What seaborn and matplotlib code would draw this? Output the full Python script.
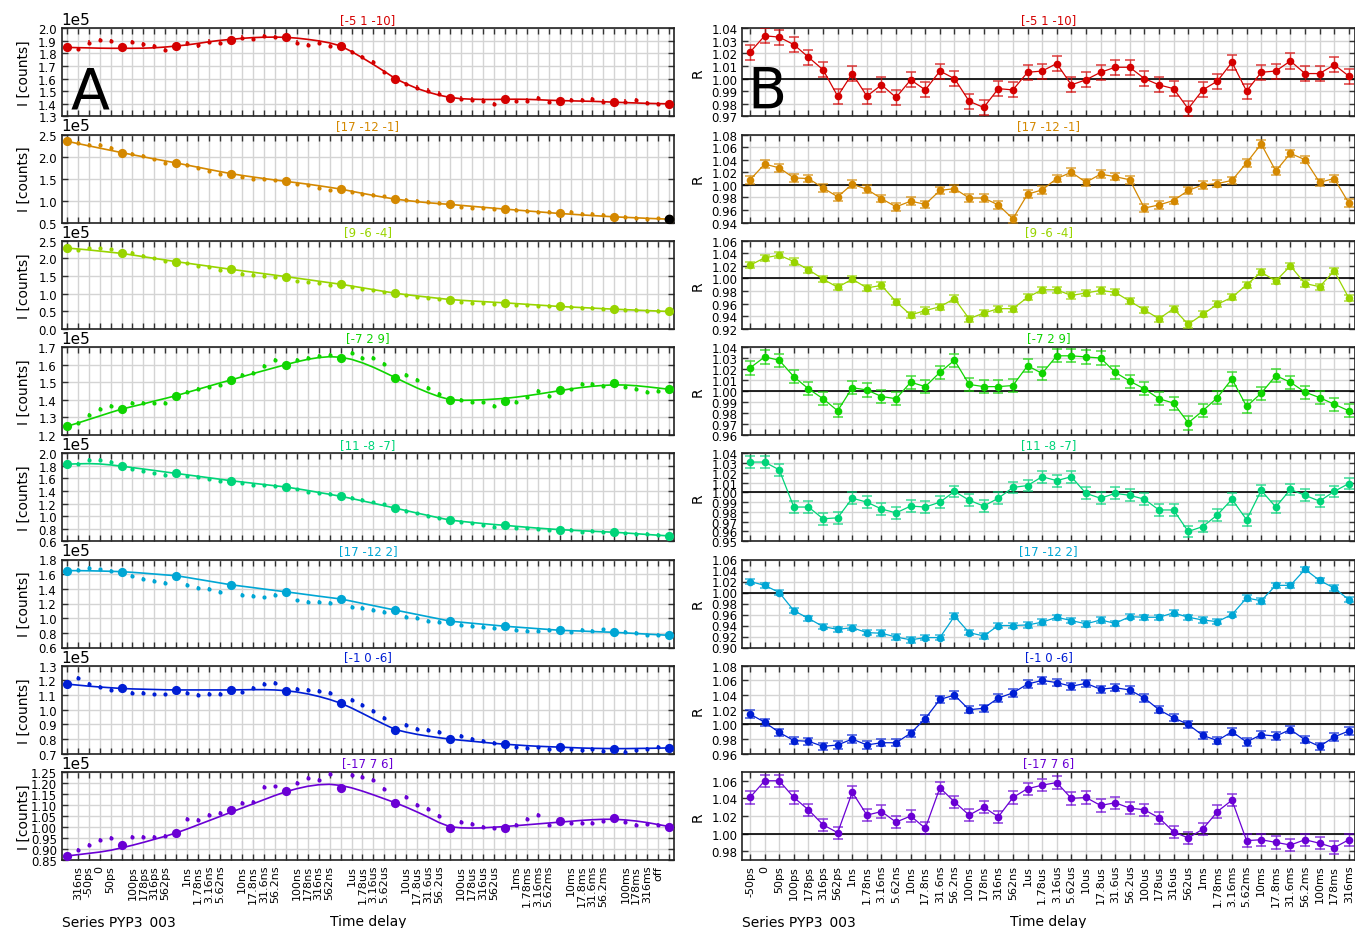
import matplotlib
matplotlib.use('Agg')
import matplotlib.pyplot as plt
from matplotlib.colors import to_rgba
from matplotlib.ticker import MultipleLocator
import numpy as np
import seaborn as sns

## Time delay labels (left panels: between the 'off' reference points)
TIME_LABELS = ['316ns', '-50ps', '0', '50ps', '100ps', '178ps', '316ps', '562ps',
               '1ns', '1.78ns', '3.16ns', '5.62ns', '10ns', '17.8ns', '31.6ns', '56.2ns',
               '100ns', '178ns', '316ns', '562ns', '1us', '1.78us', '3.16us', '5.62us',
               '10us', '17.8us', '31.6us', '56.2us', '100us', '178us', '316us', '562us',
               '1ms', '1.78ms', '3.16ms', '5.62ms', '10ms', '17.8ms', '31.6ms', '56.2ms',
               '100ms', '178ms', '316ms', 'off']
RATIO_LABELS = TIME_LABELS[1:43]

TITLES = ['[-5 1 -10]', '[17 -12 -1]', '[9 -6 -4]', '[-7 2 9]',
          '[11 -8 -7]', '[17 -12 2]', '[-1 0 -6]', '[-17 7 6]']
COLORS = ['#d40000', '#d48800', '#98d400', '#0fd400',
          '#00d479', '#00a6d4', '#001ed4', '#6a00d4']

## Intensities in units of 1e5 counts
## off: reference points, curve: fit through them, on: measured points
off_1 = [1.848, 1.848, 1.859, 1.910, 1.928, 1.863, 1.596, 1.449, 1.436, 1.425, 1.412, 1.399]
curve_1 = [1.848, 1.846, 1.844, 1.842, 1.841, 1.841, 1.841, 1.842, 1.845, 1.851, 1.859, 1.868, 1.880, 1.893,
           1.904, 1.912, 1.920, 1.926, 1.929, 1.930, 1.928, 1.922, 1.912, 1.900, 1.884, 1.860, 1.815, 1.765,
           1.712, 1.657, 1.600, 1.558, 1.521, 1.492, 1.468, 1.450, 1.440, 1.436, 1.434, 1.434, 1.435, 1.436,
           1.435, 1.432, 1.428, 1.425, 1.423, 1.421, 1.419, 1.416, 1.412, 1.409, 1.406, 1.403, 1.401, 1.399]
on_1 = [1.838, 1.886, 1.907, 1.899, 1.891, 1.872, 1.856, 1.827, 1.880, 1.864, 1.894, 1.886, 1.926, 1.915,
        1.941, 1.928, 1.886, 1.867, 1.886, 1.862, 1.814, 1.769, 1.729, 1.652, 1.558, 1.529, 1.505, 1.481,
        1.441, 1.433, 1.425, 1.399, 1.420, 1.425, 1.447, 1.412, 1.428, 1.428, 1.437, 1.417, 1.417, 1.428,
        1.407, 1.399]
ratio_1 = [1.021, 1.034, 1.033, 1.027, 1.017, 1.007, 0.986, 1.004, 0.986, 0.995, 0.985, 0.999, 0.991, 1.006,
           1.000, 0.982, 0.977, 0.992, 0.991, 1.005, 1.006, 1.012, 0.995, 0.999, 1.005, 1.009, 1.009, 1.000,
           0.995, 0.992, 0.976, 0.991, 0.998, 1.013, 0.990, 1.005, 1.006, 1.014, 1.004, 1.004, 1.011, 1.002]

off_2 = [2.348, 2.090, 1.854, 1.611, 1.436, 1.261, 1.033, 0.912, 0.805, 0.706, 0.630, 0.577]
curve_2 = [2.348, 2.296, 2.244, 2.192, 2.141, 2.090, 2.041, 1.993, 1.946, 1.900, 1.854, 1.805, 1.756, 1.707,
           1.658, 1.611, 1.571, 1.535, 1.500, 1.467, 1.436, 1.405, 1.372, 1.337, 1.300, 1.261, 1.212, 1.163,
           1.116, 1.072, 1.033, 1.002, 0.975, 0.950, 0.930, 0.912, 0.890, 0.869, 0.847, 0.826, 0.805, 0.785,
           0.765, 0.745, 0.725, 0.706, 0.690, 0.674, 0.659, 0.644, 0.630, 0.618, 0.607, 0.596, 0.586, 0.577]
on_2 = [2.318, 2.262, 2.264, 2.199, 2.063, 2.013, 1.936, 1.864, 1.807, 1.744, 1.669, 1.600, 1.530, 1.487,
        1.487, 1.458, 1.375, 1.343, 1.294, 1.230, 1.194, 1.154, 1.127, 1.093, 1.006, 0.992, 0.962, 0.937,
        0.857, 0.841, 0.826, 0.819, 0.785, 0.767, 0.750, 0.750, 0.735, 0.689, 0.692, 0.670, 0.620, 0.613,
        0.579, 0.592]
ratio_2 = [1.008, 1.033, 1.027, 1.011, 1.010, 0.995, 0.981, 1.001, 0.993, 0.978, 0.965, 0.974, 0.969, 0.991,
           0.994, 0.979, 0.979, 0.968, 0.946, 0.985, 0.992, 1.010, 1.020, 1.004, 1.017, 1.013, 1.008, 0.963,
           0.968, 0.975, 0.991, 1.000, 1.002, 1.007, 1.035, 1.065, 1.022, 1.050, 1.040, 1.004, 1.010, 0.971]

off_3 = [2.293, 2.142, 1.906, 1.689, 1.482, 1.265, 1.010, 0.831, 0.737, 0.633, 0.557, 0.491]
curve_3 = [2.293, 2.268, 2.240, 2.208, 2.175, 2.142, 2.096, 2.048, 2.000, 1.953, 1.906, 1.863, 1.820, 1.776,
           1.733, 1.689, 1.648, 1.607, 1.565, 1.524, 1.482, 1.439, 1.396, 1.352, 1.309, 1.265, 1.215, 1.164,
           1.112, 1.060, 1.010, 0.969, 0.932, 0.898, 0.864, 0.831, 0.809, 0.790, 0.772, 0.754, 0.737, 0.716,
           0.695, 0.675, 0.654, 0.633, 0.618, 0.603, 0.587, 0.572, 0.557, 0.543, 0.530, 0.517, 0.504, 0.491]
on_3 = [2.245, 2.287, 2.281, 2.255, 2.153, 2.077, 1.998, 1.926, 1.861, 1.793, 1.756, 1.669, 1.552, 1.525,
        1.495, 1.475, 1.347, 1.319, 1.287, 1.246, 1.179, 1.143, 1.092, 1.031, 0.947, 0.914, 0.878, 0.833,
        0.769, 0.739, 0.735, 0.699, 0.675, 0.667, 0.655, 0.647, 0.624, 0.601, 0.599, 0.567, 0.536, 0.536,
        0.501, 0.510]
ratio_3 = [1.021, 1.033, 1.037, 1.027, 1.014, 0.999, 0.986, 0.999, 0.985, 0.989, 0.963, 0.942, 0.949, 0.955,
           0.968, 0.936, 0.945, 0.952, 0.952, 0.970, 0.982, 0.982, 0.973, 0.977, 0.981, 0.978, 0.964, 0.950,
           0.936, 0.952, 0.927, 0.943, 0.959, 0.970, 0.990, 1.010, 0.996, 1.020, 0.992, 0.987, 1.012, 0.969]

off_4 = [1.249, 1.347, 1.424, 1.513, 1.600, 1.640, 1.526, 1.398, 1.396, 1.458, 1.498, 1.460]
curve_4 = [1.249, 1.268, 1.288, 1.308, 1.328, 1.347, 1.362, 1.377, 1.393, 1.408, 1.424, 1.442, 1.460, 1.478,
           1.496, 1.513, 1.531, 1.549, 1.566, 1.583, 1.600, 1.616, 1.630, 1.640, 1.645, 1.642, 1.630, 1.610,
           1.585, 1.556, 1.526, 1.496, 1.467, 1.441, 1.418, 1.401, 1.397, 1.398, 1.400, 1.404, 1.408, 1.415,
           1.423, 1.432, 1.442, 1.452, 1.462, 1.470, 1.477, 1.482, 1.485, 1.484, 1.480, 1.474, 1.467, 1.460]
on_4 = [1.266, 1.315, 1.349, 1.365, 1.380, 1.380, 1.383, 1.383, 1.446, 1.461, 1.471, 1.486, 1.543, 1.555,
        1.593, 1.627, 1.626, 1.637, 1.647, 1.653, 1.667, 1.636, 1.636, 1.606, 1.542, 1.511, 1.466, 1.431,
        1.400, 1.388, 1.385, 1.363, 1.390, 1.414, 1.448, 1.422, 1.459, 1.491, 1.489, 1.481, 1.475, 1.462,
        1.447, 1.451]
ratio_4 = [1.021, 1.031, 1.028, 1.013, 1.002, 0.993, 0.982, 1.003, 1.001, 0.995, 0.993, 1.008, 1.004, 1.017,
           1.028, 1.006, 1.004, 1.004, 1.005, 1.023, 1.016, 1.032, 1.032, 1.031, 1.030, 1.017, 1.009, 1.002,
           0.993, 0.989, 0.971, 0.982, 0.994, 1.011, 0.986, 0.998, 1.014, 1.008, 0.999, 0.994, 0.988, 0.982]

off_5 = [1.826, 1.795, 1.679, 1.563, 1.463, 1.316, 1.127, 0.937, 0.853, 0.785, 0.743, 0.685]
curve_5 = [1.826, 1.832, 1.835, 1.830, 1.815, 1.795, 1.772, 1.749, 1.726, 1.702, 1.679, 1.656, 1.633, 1.610,
           1.587, 1.563, 1.543, 1.523, 1.503, 1.483, 1.463, 1.436, 1.408, 1.377, 1.347, 1.316, 1.280, 1.242,
           1.204, 1.166, 1.127, 1.087, 1.048, 1.010, 0.972, 0.937, 0.917, 0.899, 0.882, 0.867, 0.853, 0.838,
           0.823, 0.809, 0.797, 0.785, 0.776, 0.767, 0.759, 0.751, 0.743, 0.732, 0.720, 0.708, 0.696, 0.685]
on_5 = [1.832, 1.892, 1.887, 1.857, 1.745, 1.723, 1.679, 1.658, 1.646, 1.617, 1.583, 1.554, 1.521, 1.500,
        1.488, 1.484, 1.424, 1.388, 1.369, 1.354, 1.289, 1.262, 1.218, 1.185, 1.086, 1.042, 1.009, 0.969,
        0.911, 0.883, 0.866, 0.832, 0.809, 0.804, 0.803, 0.775, 0.778, 0.755, 0.761, 0.749, 0.725, 0.721,
        0.714, 0.706]
ratio_5 = [1.031, 1.031, 1.023, 0.985, 0.985, 0.973, 0.974, 0.994, 0.990, 0.983, 0.979, 0.986, 0.985, 0.990,
           1.001, 0.992, 0.986, 0.994, 1.005, 1.007, 1.016, 1.012, 1.016, 0.999, 0.994, 0.999, 0.997, 0.993,
           0.982, 0.982, 0.960, 0.965, 0.977, 0.993, 0.972, 1.002, 0.985, 1.003, 0.997, 0.991, 1.001, 1.009]

off_6 = [1.648, 1.634, 1.579, 1.455, 1.359, 1.262, 1.110, 0.959, 0.890, 0.835, 0.807, 0.766]
curve_6 = [1.648, 1.648, 1.646, 1.643, 1.639, 1.634, 1.625, 1.614, 1.602, 1.590, 1.579, 1.555, 1.530, 1.505,
           1.480, 1.455, 1.436, 1.417, 1.397, 1.378, 1.359, 1.340, 1.320, 1.300, 1.281, 1.262, 1.232, 1.201,
           1.171, 1.140, 1.110, 1.080, 1.050, 1.020, 0.990, 0.959, 0.945, 0.931, 0.917, 0.904, 0.890, 0.879,
           0.868, 0.857, 0.846, 0.835, 0.829, 0.824, 0.818, 0.812, 0.807, 0.799, 0.791, 0.782, 0.774, 0.766]
on_6 = [1.660, 1.682, 1.664, 1.639, 1.571, 1.538, 1.503, 1.483, 1.455, 1.418, 1.394, 1.360, 1.313, 1.301,
        1.282, 1.319, 1.242, 1.216, 1.222, 1.204, 1.159, 1.136, 1.118, 1.082, 1.018, 0.998, 0.963, 0.946,
        0.902, 0.889, 0.883, 0.863, 0.835, 0.822, 0.823, 0.838, 0.817, 0.835, 0.829, 0.846, 0.817, 0.797,
        0.772, 0.770]
ratio_6 = [1.020, 1.013, 1.000, 0.967, 0.953, 0.938, 0.933, 0.936, 0.927, 0.926, 0.919, 0.914, 0.918, 0.918,
           0.957, 0.927, 0.921, 0.940, 0.940, 0.941, 0.946, 0.955, 0.949, 0.943, 0.950, 0.944, 0.956, 0.955,
           0.955, 0.963, 0.955, 0.950, 0.947, 0.960, 0.990, 0.985, 1.013, 1.013, 1.042, 1.022, 1.008, 0.987]

off_7 = [1.175, 1.145, 1.135, 1.135, 1.130, 1.045, 0.865, 0.800, 0.765, 0.745, 0.735, 0.740]
curve_7 = [1.175, 1.168, 1.161, 1.155, 1.150, 1.145, 1.142, 1.140, 1.138, 1.136, 1.135, 1.135, 1.135, 1.135,
           1.135, 1.135, 1.136, 1.137, 1.137, 1.135, 1.130, 1.121, 1.108, 1.091, 1.070, 1.045, 1.012, 0.975,
           0.937, 0.900, 0.865, 0.847, 0.832, 0.820, 0.809, 0.800, 0.792, 0.785, 0.778, 0.771, 0.765, 0.760,
           0.755, 0.751, 0.748, 0.745, 0.742, 0.739, 0.737, 0.736, 0.735, 0.735, 0.736, 0.737, 0.738, 0.740]
on_7 = [1.215, 1.177, 1.158, 1.137, 1.117, 1.114, 1.104, 1.104, 1.112, 1.103, 1.107, 1.107, 1.122, 1.146,
        1.176, 1.180, 1.143, 1.132, 1.130, 1.116, 1.068, 1.034, 0.990, 0.947, 0.894, 0.872, 0.861, 0.847,
        0.821, 0.801, 0.785, 0.771, 0.749, 0.738, 0.743, 0.730, 0.732, 0.727, 0.732, 0.721, 0.713, 0.723,
        0.730, 0.745]
ratio_7 = [1.014, 1.003, 0.989, 0.978, 0.977, 0.970, 0.972, 0.980, 0.972, 0.975, 0.975, 0.988, 1.008, 1.034,
           1.040, 1.020, 1.022, 1.036, 1.043, 1.055, 1.060, 1.057, 1.052, 1.056, 1.048, 1.050, 1.047, 1.036,
           1.020, 1.009, 1.000, 0.985, 0.978, 0.990, 0.976, 0.986, 0.984, 0.993, 0.979, 0.970, 0.983, 0.991]

off_8 = [0.868, 0.917, 0.973, 1.075, 1.162, 1.178, 1.110, 0.994, 0.996, 1.028, 1.039, 1.002]
curve_8 = [0.868, 0.874, 0.880, 0.886, 0.894, 0.905, 0.917, 0.930, 0.944, 0.958, 0.973, 0.991, 1.010, 1.029,
           1.048, 1.067, 1.086, 1.105, 1.124, 1.143, 1.160, 1.174, 1.185, 1.192, 1.194, 1.189, 1.178, 1.163,
           1.146, 1.128, 1.110, 1.090, 1.068, 1.045, 1.020, 1.001, 0.996, 0.995, 0.996, 0.999, 1.002, 1.006,
           1.010, 1.014, 1.018, 1.022, 1.026, 1.030, 1.033, 1.035, 1.035, 1.032, 1.027, 1.020, 1.011, 1.002]
on_8 = [0.896, 0.916, 0.939, 0.948, 0.955, 0.955, 0.953, 0.959, 1.038, 1.031, 1.055, 1.062, 1.108, 1.112,
        1.182, 1.184, 1.199, 1.221, 1.215, 1.243, 1.238, 1.227, 1.212, 1.173, 1.135, 1.102, 1.082, 1.050,
        1.023, 1.013, 0.998, 0.994, 1.011, 1.035, 1.053, 1.010, 1.019, 1.020, 1.020, 1.028, 1.021, 1.011,
        1.013, 1.007]
ratio_8 = [1.041, 1.060, 1.060, 1.041, 1.027, 1.010, 1.001, 1.047, 1.021, 1.025, 1.013, 1.020, 1.006, 1.052,
           1.036, 1.021, 1.030, 1.019, 1.041, 1.051, 1.055, 1.058, 1.040, 1.041, 1.032, 1.035, 1.029, 1.027,
           1.018, 1.002, 0.995, 1.005, 1.025, 1.038, 0.992, 0.993, 0.990, 0.987, 0.993, 0.989, 0.984, 0.993]

## Error bar half-widths per panel (left in 1e5 counts)
ON_ERR = [0.017, 0.042, 0.050, 0.011, 0.030, 0.026, 0.013, 0.009]
RATIO_ERR = [0.006, 0.006, 0.005, 0.006, 0.006, 0.005, 0.005, 0.007]

## Axis ranges (low, high, tick step)
LEFT_RANGES = [(1.3, 2.0, 0.1), (0.5, 2.5, 0.5), (0.0, 2.5, 0.5), (1.2, 1.7, 0.1),
               (0.6, 2.0, 0.2), (0.6, 1.8, 0.2), (0.7, 1.3, 0.1), (0.85, 1.25, 0.05)]
RIGHT_RANGES = [(0.97, 1.04, 0.01), (0.94, 1.08, 0.02), (0.92, 1.06, 0.02), (0.96, 1.04, 0.01),
                (0.95, 1.04, 0.01), (0.90, 1.06, 0.02), (0.96, 1.08, 0.02), (0.97, 1.07, 0.02)]

## Panel 2: last reference point drawn in black
BLACK_DOT = (1, 11)

SCALE = 1e5
W, H = 1355, 929

OFF_POS = np.arange(0, 56, 5)
ON_POS = np.array([p for p in range(56) if p % 5])
CURVE_POS = np.arange(56)
RATIO_POS = np.arange(42)

sns.set_style('ticks')
plt.rcParams['font.family'] = ['DejaVu Sans']
plt.rcParams.update({'text.color': 'black', 'axes.labelcolor': 'black',
                     'xtick.color': 'black', 'ytick.color': 'black'})


def style_axis(ax, xticks, last_row):
    ax.set_xticks(xticks)
    ax.grid(True, color='#d4d4d4', lw=1.0)
    ax.set_axisbelow(True)
    ax.tick_params(direction='in', top=True, right=True, length=4, width=1,
                   color='#333333', labelcolor='black', labelsize=8.5, labelbottom=last_row)
    for spine in ax.spines.values():
        spine.set_color('#222222')
        spine.set_linewidth(1.2)


def draw_left(ax, i, off, curve, on, last_row):
    c = COLORS[i]
    sns.lineplot(x=CURVE_POS, y=np.array(curve) * SCALE, ax=ax, color=c, lw=1.2, zorder=2)
    ax.errorbar(ON_POS, np.array(on) * SCALE, yerr=ON_ERR[i] * SCALE, fmt='o', ms=3,
                color=c, ecolor=to_rgba(c, 0.85), elinewidth=1.2, capsize=2.6, capthick=1.3,
                mew=0, zorder=3)
    sns.scatterplot(x=OFF_POS, y=np.array(off) * SCALE, ax=ax, color=c, s=44,
                    linewidth=0, zorder=4)
    if BLACK_DOT[0] == i:
        k = BLACK_DOT[1]
        ax.plot(OFF_POS[k], off[k] * SCALE, 'o', color='black', ms=6, zorder=5)
    lo, hi, step = LEFT_RANGES[i]
    ax.set_xlim(-0.46, 55.46)
    ax.set_ylim(lo * SCALE, hi * SCALE)
    ax.yaxis.set_major_locator(MultipleLocator(step * SCALE))
    ax.ticklabel_format(axis='y', style='sci', scilimits=(0, 0))
    ax.yaxis.get_offset_text().set_fontsize(11)
    style_axis(ax, CURVE_POS, last_row)
    if last_row:
        it = iter(TIME_LABELS)
        ax.set_xticklabels(['' if p % 5 == 0 else next(it) for p in CURVE_POS],
                           rotation=90, fontsize=8)
    ax.set_ylabel('I [counts]', fontsize=10)
    ax.yaxis.set_label_coords(-0.051, 0.5)
    ax.set_xlabel('')
    ax.set_title(TITLES[i], color=c, fontsize=8.5, pad=4)


def draw_right(ax, i, ratio, last_row):
    c = COLORS[i]
    ax.axhline(1.0, color='black', lw=1.2, zorder=2)
    ax.errorbar(RATIO_POS, ratio, yerr=RATIO_ERR[i], fmt='none', ecolor=to_rgba(c, 0.7),
                elinewidth=1, capsize=3.6, capthick=1.2, zorder=3)
    sns.lineplot(x=RATIO_POS, y=ratio, ax=ax, color=c, lw=0.9, marker='o',
                 markersize=5.5, markeredgewidth=0, zorder=4)
    lo, hi, step = RIGHT_RANGES[i]
    ax.set_xlim(-0.53, 41.41)
    ax.set_ylim(lo, hi)
    ax.yaxis.set_major_locator(MultipleLocator(step))
    ax.yaxis.get_major_formatter().set_useOffset(False)
    style_axis(ax, RATIO_POS, last_row)
    if last_row:
        ax.set_xticklabels(RATIO_LABELS, rotation=90, fontsize=8)
    ax.set_ylabel('R', fontsize=10)
    ax.yaxis.set_label_coords(-0.061, 0.5)
    ax.set_xlabel('')
    ax.set_title(TITLES[i], color=c, fontsize=8.5, pad=4)


panels = [(off_1, curve_1, on_1, ratio_1), (off_2, curve_2, on_2, ratio_2),
          (off_3, curve_3, on_3, ratio_3), (off_4, curve_4, on_4, ratio_4),
          (off_5, curve_5, on_5, ratio_5), (off_6, curve_6, on_6, ratio_6),
          (off_7, curve_7, on_7, ratio_7), (off_8, curve_8, on_8, ratio_8)]

fig = plt.figure(figsize=(W / 100, H / 100), dpi=100)
for i, (off, curve, on, ratio) in enumerate(panels):
    top = 29.3 + 106.24 * i
    bottom = 1 - (top + 88) / H
    last_row = i == len(panels) - 1
    axl = fig.add_axes([61.7 / W, bottom, 612.5 / W, 88 / H])
    axr = fig.add_axes([742.3 / W, bottom, 612.5 / W, 88 / H])
    draw_left(axl, i, off, curve, on, last_row)
    draw_right(axr, i, ratio, last_row)
    if i == 0:
        axl.text(0.015, 0.094, 'A', transform=axl.transAxes, fontsize=41, va='baseline')
        axr.text(0.009, 0.094, 'B', transform=axr.transAxes, fontsize=41, va='baseline')

base = 1 - 926.5 / H
for x0 in (61.7, 742.3):
    fig.text(x0 / W, base, 'Series PYP3_003', fontsize=10, va='baseline', ha='left')
    fig.text((x0 + 306.25) / W, base, 'Time delay', fontsize=10, va='baseline', ha='center')

fig.savefig('out.png', dpi=100)
